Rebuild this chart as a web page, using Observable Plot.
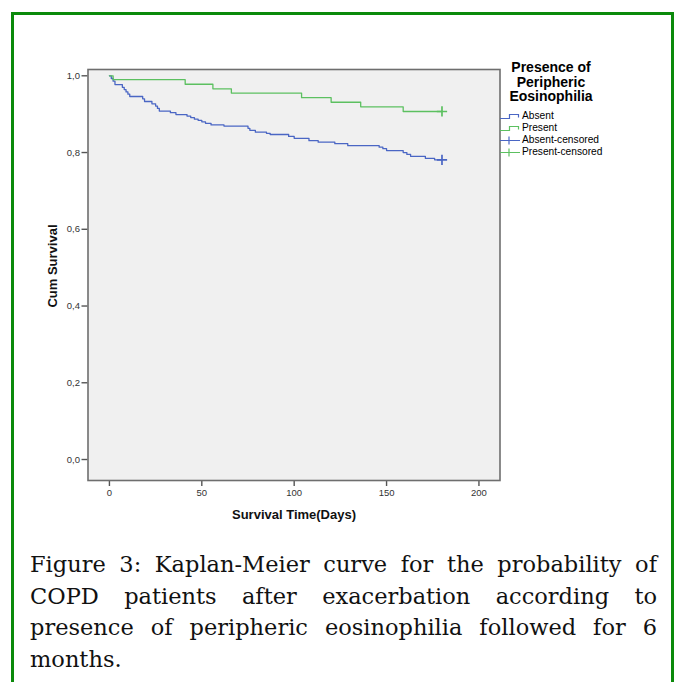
<!DOCTYPE html>
<html><head><meta charset="utf-8">
<script src="https://cdn.jsdelivr.net/npm/d3@7"></script>
<script src="https://cdn.jsdelivr.net/npm/@observablehq/plot@0.6"></script>
<style>
html,body{margin:0;padding:0;background:#fff;}
#wrap{position:relative;width:683px;height:682px;overflow:hidden;background:#fff;}
#box{position:absolute;left:11px;top:12px;width:663px;height:720px;border:3px solid #0b8a0b;box-sizing:border-box;}
#chart{position:absolute;left:0;top:0;}
#legend{position:absolute;left:500px;top:60px;width:115px;font-family:"Liberation Sans",Arial,sans-serif;color:#000;}
.lt{font-weight:bold;font-size:14px;line-height:14.5px;text-align:center;width:102px;margin-bottom:6px;}
.li{font-size:10.2px;height:12px;line-height:12px;display:flex;align-items:center;white-space:nowrap;}
.li svg{width:20px;height:12px;margin-right:2px;flex:none;}
#caption{position:absolute;left:30px;top:549px;width:627px;font-family:"DejaVu Serif",serif;font-size:22.5px;line-height:31.5px;color:#111;}
.cl{text-align:justify;text-align-last:justify;}
.cl.last{text-align-last:left;}
</style>
</head><body>
<div id="wrap">
  <div id="box"></div>
  <div id="chart"></div>
  <div id="legend"></div>
  <div id="caption"></div>
</div>
<script>
// ---- data ----
const groups = ["Absent", "Present"];
const colors = ["#4a66c4", "#5cc060"];
const absentTime = [0, 1, 2, 3, 7, 8, 9, 10, 11, 18, 19, 23, 25, 26, 27, 33, 36, 42, 44, 46, 48, 50, 52, 55, 62, 75, 76, 79, 85, 87, 97, 100, 108, 113, 122, 129, 146, 148, 150, 159, 161, 163, 171, 176, 180];
const absentSurv = [1.0, 0.993, 0.986, 0.977, 0.970, 0.964, 0.958, 0.952, 0.946, 0.940, 0.933, 0.927, 0.921, 0.915, 0.908, 0.904, 0.899, 0.895, 0.891, 0.887, 0.884, 0.880, 0.876, 0.872, 0.869, 0.863, 0.858, 0.853, 0.850, 0.847, 0.842, 0.837, 0.831, 0.827, 0.823, 0.818, 0.814, 0.810, 0.805, 0.800, 0.795, 0.790, 0.785, 0.781, 0.781];
const presentTime = [0, 2, 41, 56, 66, 104, 120, 136, 159, 180];
const presentSurv = [1.0, 0.990, 0.978, 0.966, 0.955, 0.943, 0.931, 0.919, 0.907, 0.907];
const censorTime = [180, 180];
const censorSurv = [0.781, 0.907];
const censorGroup = ["Absent", "Present"];
const xTicks = [0, 50, 100, 150, 200];
const yTicks = [0, 0.2, 0.4, 0.6, 0.8, 1.0];
const xTitle = "Survival Time(Days)";
const yTitle = "Cum Survival";
const legendTitle = ["Presence of", "Peripheric", "Eosinophilia"];
const legendItems = ["Absent", "Present", "Absent-censored", "Present-censored"];
const captionLines = [
  "Figure 3: Kaplan-Meier curve for the probability of",
  "COPD patients after exacerbation according to",
  "presence of peripheric eosinophilia followed for 6",
  "months."
];

// ---- build tables ----
const rows = [];
absentTime.forEach((t, i) => rows.push({t, s: absentSurv[i], g: "Absent"}));
presentTime.forEach((t, i) => rows.push({t, s: presentSurv[i], g: "Present"}));
const cens = censorTime.map((t, i) => ({t, s: censorSurv[i], g: censorGroup[i]}));

const chart = Plot.plot({
  width: 683, height: 530,
  marginLeft: 87.5, marginRight: 183.5, marginTop: 69, marginBottom: 50,
  style: {fontFamily: "'Liberation Sans', Arial, sans-serif", fontSize: "9.5px", color: "#333", background: "transparent", overflow: "visible"},
  x: {domain: [-11.6, 211.4]},
  y: {domain: [-0.0547, 1.0164]},
  color: {domain: groups, range: colors},
  marks: [
    Plot.frame({fill: "#f0f0f0"}),
    Plot.axisX({ticks: xTicks, tickSize: 6, tickPadding: 3, label: null, stroke: "#555", strokeWidth: 1.4}),
    Plot.axisY({ticks: yTicks, tickSize: 6, tickPadding: 2, label: null, stroke: "#555", strokeWidth: 1.4,
      tickFormat: d => d.toFixed(1).replace(".", ",")}),
    Plot.line(rows, {x: "t", y: "s", z: "g", stroke: "g", curve: "step-after", strokeWidth: 1.3}),
    Plot.dot(cens, {x: "t", y: "s", stroke: "g", symbol: "plus", r: 3.4, strokeWidth: 1.7}),
    Plot.frame({stroke: "#6e6e6e", strokeWidth: 1.6}),
    Plot.text([xTitle], {text: d => d, frameAnchor: "bottom", lineAnchor: "middle", dy: 34, fontWeight: "bold", fontSize: 13, fill: "#111"}),
    Plot.text([yTitle], {text: d => d, frameAnchor: "left", textAnchor: "middle", lineAnchor: "middle", dx: -35, dy: -9, rotate: -90, fontWeight: "bold", fontSize: 13, fill: "#111"})
  ]
});
document.getElementById("chart").appendChild(chart);

// ---- legend ----
const lg = document.getElementById("legend");
const t = document.createElement("div");
t.className = "lt";
t.innerHTML = legendTitle.join("<br>");
lg.appendChild(t);
legendItems.forEach((name, i) => {
  const col = colors[i % 2];
  const censored = i >= 2;
  const icon = censored
    ? `<svg viewBox="0 0 20 12"><path d="M0,6.5H20M9,2.5V10.5M5,6.5H13" stroke="${col}" stroke-width="1.2" fill="none"/></svg>`
    : `<svg viewBox="0 0 20 12"><path d="M0,8.5H9.5V4.5H18.5V7.5" stroke="${col}" stroke-width="1.2" fill="none"/></svg>`;
  const d = document.createElement("div");
  d.className = "li";
  d.innerHTML = icon + `<span>${name}</span>`;
  lg.appendChild(d);
});

// ---- caption ----
const cap = document.getElementById("caption");
captionLines.forEach((line, i) => {
  const d = document.createElement("div");
  d.className = "cl" + (i === captionLines.length - 1 ? " last" : "");
  d.textContent = line;
  cap.appendChild(d);
});
</script>
</body></html>
